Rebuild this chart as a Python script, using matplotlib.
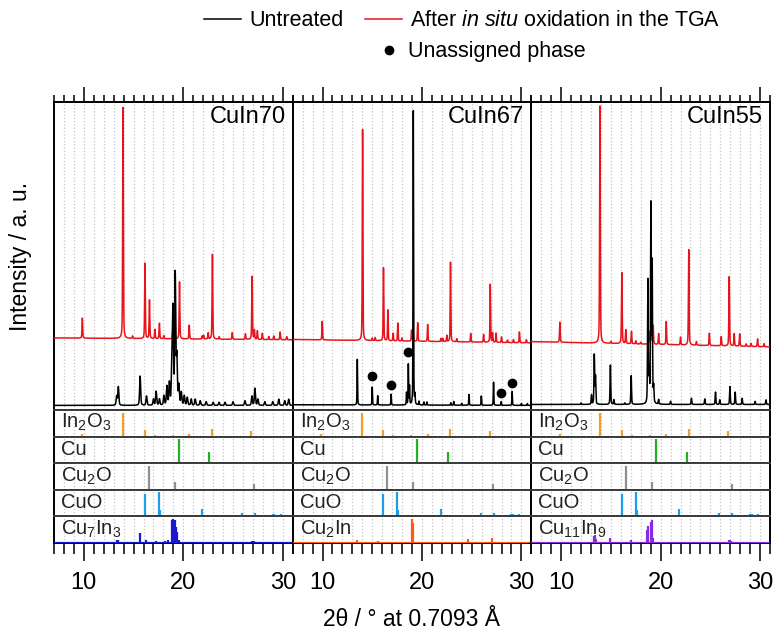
import numpy as np
import matplotlib
matplotlib.use('Agg')
import matplotlib.pyplot as plt
from matplotlib.lines import Line2D
from matplotlib.ticker import MultipleLocator

plt.rcParams['font.family'] = ['Liberation Sans', 'DejaVu Sans']
plt.rcParams['mathtext.fontset'] = 'custom'
plt.rcParams['mathtext.rm'] = 'Liberation Sans'
plt.rcParams['mathtext.it'] = 'Liberation Sans:italic'
plt.rcParams['mathtext.default'] = 'regular'

# ---------------- data ----------------
samples = ['CuIn70', 'CuIn67', 'CuIn55']

# after in-situ oxidation (red) : peak positions (2theta) and heights (a.u.)
cuin70_ox_pos = [9.85, 13.94, 14.9, 16.15, 16.6, 17.15, 17.6, 18.05, 18.95, 19.1, 19.62, 20.6, 21.9, 22.05,
                 22.5, 22.93, 23.6, 24.93, 26.25, 26.92, 27.15, 27.45, 27.95, 28.6, 29.1, 29.74, 30.4]
cuin70_ox_int = [0.065, 0.75, 0.008, 0.245, 0.125, 0.03, 0.05, 0.01, 0.02, 0.045, 0.185, 0.045, 0.01, 0.012,
                 0.02, 0.275, 0.008, 0.022, 0.018, 0.205, 0.03, 0.028, 0.02, 0.01, 0.012, 0.025, 0.01]
cuin70_ox_base = [0.234, 0.228]

cuin67_ox_pos = [9.97, 14.03, 15.0, 15.3, 16.13, 16.57, 17.1, 17.57, 18.0, 18.95, 19.1, 19.57, 20.57, 21.9,
                 22.1, 22.5, 22.87, 23.5, 24.9, 26.2, 26.87, 27.1, 27.45, 28.0, 28.6, 29.2, 29.8, 30.5]
cuin67_ox_int = [0.06, 0.685, 0.008, 0.01, 0.237, 0.10, 0.025, 0.058, 0.01, 0.035, 0.04, 0.06, 0.055, 0.01,
                 0.01, 0.02, 0.258, 0.01, 0.028, 0.025, 0.188, 0.03, 0.03, 0.018, 0.008, 0.01, 0.035, 0.01]
cuin67_ox_base = [0.229, 0.218]

cuin55_ox_pos = [9.87, 13.9, 15.0, 16.1, 16.5, 17.07, 17.5, 18.0, 18.9, 19.08, 19.25, 19.8, 20.57, 22.0,
                 22.83, 23.6, 24.9, 26.1, 26.9, 27.4, 27.95, 28.6, 29.1, 29.75, 30.4]
cuin55_ox_int = [0.065, 0.77, 0.006, 0.23, 0.045, 0.04, 0.01, 0.006, 0.04, 0.09, 0.06, 0.035, 0.075, 0.025,
                 0.31, 0.012, 0.04, 0.03, 0.225, 0.04, 0.04, 0.008, 0.01, 0.025, 0.01]
cuin55_ox_base = [0.222, 0.205]

# untreated (black)
cuin70_un_pos = [13.3, 13.47, 15.66, 16.3, 17.0, 17.27, 17.6, 18.05, 18.35, 18.6, 18.85, 18.96, 19.19, 19.35,
                 19.55, 19.8, 20.1, 20.4, 20.8, 21.2, 21.7, 22.3, 23.0, 23.6, 24.2, 25.0, 26.2, 26.9, 27.2,
                 27.5, 28.2, 29.0, 29.6, 30.2, 30.6]
cuin70_un_int = [0.03, 0.06, 0.095, 0.03, 0.02, 0.045, 0.02, 0.03, 0.06, 0.07, 0.12, 0.30, 0.42, 0.15,
                 0.06, 0.04, 0.03, 0.025, 0.02, 0.02, 0.015, 0.012, 0.01, 0.01, 0.01, 0.012, 0.015, 0.03, 0.055,
                 0.02, 0.012, 0.012, 0.02, 0.015, 0.02]
cuin70_un_base = [0.015, 0.015]

cuin67_un_pos = [13.5, 15.0, 15.55, 16.9, 18.45, 18.63, 18.75, 19.13, 19.3, 19.7, 20.2, 20.5, 22.9, 23.2,
                 24.0, 24.73, 25.97, 27.2, 27.97, 29.07, 30.0, 30.6]
cuin67_un_int = [0.148, 0.058, 0.03, 0.035, 0.04, 0.131, 0.06, 0.955, 0.03, 0.012, 0.01, 0.01, 0.008, 0.012,
                 0.006, 0.035, 0.03, 0.075, 0.012, 0.045, 0.006, 0.006]
cuin67_un_base = [0.017, 0.015]

cuin55_un_pos = [12.0, 13.05, 13.33, 13.45, 14.95, 15.3, 16.4, 17.04, 18.72, 18.85, 19.02, 19.15, 19.3, 19.8,
                 21.0, 23.1, 24.44, 25.52, 25.95, 26.97, 27.5, 28.2, 29.5, 30.6]
cuin55_un_int = [0.005, 0.03, 0.16, 0.09, 0.128, 0.015, 0.005, 0.093, 0.40, 0.1, 0.64, 0.45, 0.05, 0.015,
                 0.01, 0.02, 0.018, 0.04, 0.015, 0.058, 0.04, 0.02, 0.01, 0.015]
cuin55_un_base = [0.018, 0.018]

# unassigned phase markers (CuIn67)
cuin67_unassigned_pos = [15.0, 16.9, 18.57, 27.97, 29.07]
cuin67_unassigned_int = [0.11, 0.081, 0.187, 0.056, 0.087]

# reference stick patterns
in2o3_pos = [9.86, 13.95, 16.12, 17.11, 18.04, 18.92, 20.58, 22.86, 24.93, 26.2, 26.82, 27.43, 28.03, 29.74]
in2o3_int = [0.1, 0.9, 0.26, 0.05, 0.02, 0.05, 0.08, 0.3, 0.04, 0.02, 0.22, 0.03, 0.04, 0.02]
cu_pos = [19.55, 22.62]
cu_int = [0.92, 0.42]
cu2o_pos = [13.49, 16.53, 19.12, 27.15]
cu2o_int = [0.02, 0.9, 0.28, 0.2]
cuo_pos = [14.79, 16.13, 17.54, 17.64, 21.87, 23.9, 25.9, 27.2, 29.0, 29.15, 29.8]
cuo_int = [0.06, 0.85, 0.9, 0.25, 0.26, 0.07, 0.12, 0.14, 0.08, 0.08, 0.1]
cu7in3_pos = [13.35, 13.45, 15.66, 16.3, 16.9, 17.3, 17.9, 18.2, 18.5, 18.85, 18.95, 19.05, 19.15, 19.25,
              19.35, 19.6, 19.9, 20.3, 21.0, 22.3, 24.0, 25.1, 26.9, 27.1, 27.3, 28.5, 30.0]
cu7in3_int = [0.1, 0.12, 0.36, 0.1, 0.05, 0.08, 0.05, 0.08, 0.1, 0.85, 0.9, 0.88, 0.85, 0.6,
              0.4, 0.1, 0.05, 0.03, 0.03, 0.03, 0.02, 0.03, 0.06, 0.08, 0.05, 0.02, 0.03]
cu2in_pos = [13.47, 15.6, 19.03, 19.1, 24.63, 27.03]
cu2in_int = [0.1, 0.08, 0.9, 0.75, 0.14, 0.2]
cu11in9_pos = [13.3, 13.37, 13.5, 14.95, 15.5, 17.07, 18.65, 18.72, 19.02, 19.09, 19.2, 20.4, 23.1, 24.4,
               25.5, 26.9, 27.0, 27.1, 30.5]
cu11in9_int = [0.25, 0.3, 0.15, 0.17, 0.03, 0.13, 0.5, 0.64, 0.8, 0.88, 0.2, 0.03, 0.03, 0.03,
               0.02, 0.12, 0.13, 0.08, 0.04]

ref_names = ['In$_2$O$_3$', 'Cu', 'Cu$_2$O', 'CuO']
ref_pos = [in2o3_pos, cu_pos, cu2o_pos, cuo_pos]
ref_int = [in2o3_int, cu_int, cu2o_int, cuo_int]
ref_colors = ['#f0a030', '#22b022', '#909090', '#1e9ee6']
alloy_names = ['Cu$_7$In$_3$', 'Cu$_2$In', 'Cu$_{11}$In$_9$']
alloy_pos = [cu7in3_pos, cu2in_pos, cu11in9_pos]
alloy_int = [cu7in3_int, cu2in_int, cu11in9_int]
alloy_colors = ['#1818d0', '#ff5a14', '#8a2be2']

ox_pos = [cuin70_ox_pos, cuin67_ox_pos, cuin55_ox_pos]
ox_int = [cuin70_ox_int, cuin67_ox_int, cuin55_ox_int]
ox_base = [cuin70_ox_base, cuin67_ox_base, cuin55_ox_base]
un_pos = [cuin70_un_pos, cuin67_un_pos, cuin55_un_pos]
un_int = [cuin70_un_int, cuin67_un_int, cuin55_un_int]
un_base = [cuin70_un_base, cuin67_un_base, cuin55_un_base]
ox_width = [0.08, 0.07, 0.08]
un_width = [0.12, 0.06, 0.08]

XMIN, XMAX = 7, 31
x = np.linspace(XMIN, XMAX, 4801)


def pattern(pos, inten, base, fwhm):
    y = np.interp(x, [XMIN, XMAX], base)
    hw = fwhm / 2.0
    for p, h in zip(pos, inten):
        g = np.exp(-np.log(2) * ((x - p) / hw) ** 2)
        lz = 1.0 / (1.0 + ((x - p) / hw) ** 2)
        y = y + h * (0.6 * g + 0.4 * lz)
    return y


# ---------------- figure ----------------
fig = plt.figure(figsize=(7.77, 6.32), dpi=100)
gs = fig.add_gridspec(6, 3, left=0.0695, right=0.991, top=0.8386, bottom=0.1408,
                      height_ratios=[308 / 26.6, 1, 1, 1, 1, 1], hspace=0, wspace=0)

grid_kw = dict(color='#c4c4c4', linestyle=':', linewidth=0.9)

for c in range(3):
    ax = fig.add_subplot(gs[0, c])
    ax.plot(x, pattern(ox_pos[c], ox_int[c], ox_base[c], ox_width[c]), color='#e8141c', lw=1.1, zorder=3)
    ax.plot(x, pattern(un_pos[c], un_int[c], un_base[c], un_width[c]), color='black', lw=1.1, zorder=4)
    if c == 1:
        ax.plot(cuin67_unassigned_pos, cuin67_unassigned_int, 'o', color='black', ms=6, zorder=5)
    ax.set_xlim(XMIN, XMAX)
    ax.set_ylim(0, 1.0)
    ax.xaxis.set_major_locator(MultipleLocator(10))
    ax.xaxis.set_minor_locator(MultipleLocator(1))
    ax.tick_params(axis='x', which='both', top=True, bottom=False, labeltop=False, labelbottom=False,
                   direction='out', width=1.1, color='black')
    ax.tick_params(axis='x', which='major', length=11)
    ax.tick_params(axis='x', which='minor', length=5)
    ax.tick_params(axis='y', left=False, labelleft=False)
    ax.grid(True, which='both', axis='x', **grid_kw)
    for s in ax.spines.values():
        s.set_linewidth(1.4)
        s.set_color('black')
    ax.text(0.97, 0.95, samples[c], transform=ax.transAxes, ha='right', va='center', fontsize=17)

    for r in range(5):
        rax = fig.add_subplot(gs[r + 1, c])
        if r < 4:
            pos, inten, col, name = ref_pos[r], ref_int[r], ref_colors[r], ref_names[r]
        else:
            pos, inten, col, name = alloy_pos[c], alloy_int[c], alloy_colors[c], alloy_names[c]
        rax.vlines(pos, 0, inten, color=col, lw=1.6, zorder=3)
        if r == 4:
            rax.axhline(0.01, color=col, lw=1.6, zorder=3)
        rax.set_xlim(XMIN, XMAX)
        rax.set_ylim(0, 1.0)
        rax.xaxis.set_major_locator(MultipleLocator(10))
        rax.xaxis.set_minor_locator(MultipleLocator(1))
        rax.grid(True, which='both', axis='x', **grid_kw)
        rax.tick_params(axis='y', left=False, labelleft=False)
        if r < 4:
            rax.tick_params(axis='x', which='both', bottom=False, top=False, labelbottom=False)
        else:
            rax.tick_params(axis='x', which='both', bottom=True, top=False, direction='out',
                            width=1.1, labelsize=17, pad=8)
            rax.tick_params(axis='x', which='major', length=13)
            rax.tick_params(axis='x', which='minor', length=8)
        for key, s in rax.spines.items():
            s.set_linewidth(1.4)
            if key in ('left', 'right'):
                s.set_color('black')
            else:
                s.set_color('#3a3a3a')
        if r == 4:
            rax.spines['bottom'].set_color('black')
        rax.text(0.03, 0.52, name, transform=rax.transAxes, ha='left', va='center', fontsize=14.5,
                 color='#222222')

fig.text(0.026, 0.595, 'Intensity / a. u.', rotation=90, ha='center', va='center', fontsize=16.5)
fig.text(0.53, 0.02, '2\u03b8 / \u00b0 at 0.7093 \u00c5', ha='center', va='center', fontsize=16.5)

h1 = Line2D([], [], color='black', lw=1.1)
h2 = Line2D([], [], color='#e8141c', lw=1.1)
h3 = Line2D([], [], color='black', lw=0, marker='o', ms=6)
leg1 = fig.legend([h1, h2], ['Untreated', 'After $\\mathit{in\\ situ}$ oxidation in the TGA'],
                  loc='center', bbox_to_anchor=(0.595, 0.967), ncol=2, frameon=False, fontsize=15.5,
                  handlelength=1.7, handletextpad=0.4, columnspacing=1.0, borderpad=0, borderaxespad=0)
leg2 = fig.legend([h3], ['Unassigned phase'], loc='center', bbox_to_anchor=(0.62, 0.918),
                  frameon=False, fontsize=15.5, handlelength=1.0, handletextpad=0.4, borderpad=0,
                  borderaxespad=0)

fig.savefig('out.png', dpi=100)
